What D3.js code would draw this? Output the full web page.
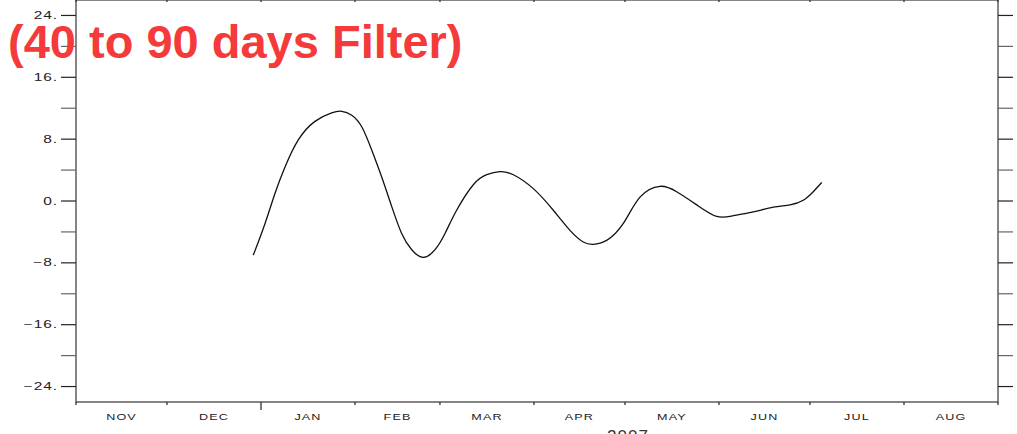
<!DOCTYPE html>
<meta charset="utf-8">
<style>
body { margin: 0; background: #fff; }
text { font-family: "Liberation Sans", Arial, sans-serif; }
.line { fill: none; stroke: #111; stroke-width: 1.3px; }
</style>
<body>
<script src="https://cdn.jsdelivr.net/npm/d3@7"></script>
<script>

// filtered series (date + hour)
var dates = ["2006-12-29T11","2007-01-02T08","2007-01-05T15","2007-01-08T22","2007-01-13T07","2007-01-18T19",
  "2007-01-24T07","2007-01-27T15","2007-01-30T22","2007-02-03T05","2007-02-06T12","2007-02-09T19",
  "2007-02-13T02","2007-02-16T09","2007-02-19T17","2007-02-23T12","2007-02-27T09",
  "2007-03-02T16","2007-03-06T12","2007-03-12T00","2007-03-16T10","2007-03-20T19","2007-03-25T05","2007-03-31T19",
  "2007-04-07T09","2007-04-12T21","2007-04-17T06","2007-04-20T13","2007-04-24T23","2007-04-30T11",
  "2007-05-05T23","2007-05-12T13","2007-05-18T01","2007-05-24T16","2007-05-31T06",
  "2007-06-05T17","2007-06-12T08","2007-06-18T22","2007-06-24T10","2007-06-28T19","2007-07-02T02","2007-07-04T21"];
var values = [-7.0,-2.9,1.0,4.4,7.9,10.3,
  11.4,11.6,11.1,9.6,6.6,3.1,
  -0.7,-4.2,-6.3,-7.3,-6.3,
  -4.2,-1.2,2.1,3.4,3.8,3.4,1.6,
  -1.2,-3.8,-5.3,-5.6,-5.1,-2.9,
  0.5,1.9,1.2,-0.5,-2.0,
  -1.9,-1.4,-0.8,-0.5,0.1,1.2,2.4];

var monthLabels = ["NOV","DEC","JAN","FEB","MAR","APR","MAY","JUN","JUL","AUG"];
var yMajor = [24,16,8,0,-8,-16,-24];
var yMinor = [20,12,4,-4,-12,-20];
var title = "(40 to 90 days Filter)";
var yearLabel = "2007";

var margin = {top: 0, left: 76, right: 19, bottom: 32},
    width = 1017 - margin.left - margin.right,
    height = 434 - margin.top - margin.bottom;

var parse = d3.utcParse("%Y-%m-%d");
var parseH = d3.utcParse("%Y-%m-%dT%H");
var data = dates.map(function(d, i) { return {date: parseH(d), v: values[i]}; });

var x = d3.scaleUtc().domain([parse("2006-11-01"), parse("2007-09-01")]).range([0, width]);
var y = d3.scaleLinear().domain([-26, 26]).range([height, 0]);

var svg = d3.select("body").append("svg")
    .attr("width", 1017)
    .attr("height", 434);

var g = svg.append("g")
    .attr("transform", "translate(" + margin.left + "," + margin.top + ")");

// frame
g.append("rect")
    .attr("width", width).attr("height", height)
    .attr("fill", "none").attr("stroke", "#444").attr("stroke-width", 1.3);

// y ticks, both sides
var yt = yMajor.map(function(v) { return {v: v, major: true}; })
  .concat(yMinor.map(function(v) { return {v: v, major: false}; }));
[[-15, 0], [width, width + 15]].forEach(function(s) {
  g.selectAll(null).data(yt).enter().append("line")
    .attr("x1", s[0]).attr("x2", s[1])
    .attr("y1", function(d) { return y(d.v); })
    .attr("y2", function(d) { return y(d.v); })
    .attr("stroke", function(d) { return d.major ? "#222" : "#666"; })
    .attr("stroke-width", 1.2);
});

// wide, squat labels like the original plotting package
g.selectAll(null).data(yMajor).enter().append("text")
    .attr("transform", function(d) { return "translate(-18," + y(d) + ") scale(1.55,1)"; })
    .attr("dy", "0.35em")
    .attr("text-anchor", "end")
    .attr("font-size", 10)
    .attr("letter-spacing", 0.6)
    .attr("fill", "#222")
    .text(function(d) { return (d < 0 ? "\u2212" + (-d) : d) + "."; });

// month boundaries on the x axis
var months = d3.utcMonth.range(parse("2006-11-01"), parse("2007-09-02"));
g.selectAll(null).data(months).enter().append("line")
    .attr("x1", function(d) { return x(d); })
    .attr("x2", function(d) { return x(d); })
    .attr("y1", height)
    .attr("y2", function(d) { return height + (d.getUTCMonth() === 0 ? 8 : 3); })
    .attr("stroke", "#333").attr("stroke-width", 1.3);
g.selectAll(null).data(months).enter().append("line")
    .attr("x1", function(d) { return x(d); })
    .attr("x2", function(d) { return x(d); })
    .attr("y1", 0).attr("y2", 2)
    .attr("stroke", "#333").attr("stroke-width", 1.3);

g.selectAll(null).data(months.slice(0, monthLabels.length)).enter().append("text")
    .attr("transform", function(d) {
      var cx = (x(d) + x(d3.utcMonth.offset(d, 1))) / 2;
      return "translate(" + cx + "," + (height + 18) + ") scale(1.4,1)";
    })
    .attr("text-anchor", "middle")
    .attr("font-size", 9)
    .attr("letter-spacing", 0.8)
    .attr("fill", "#222")
    .text(function(d, i) { return monthLabels[i]; });

g.append("text")
    .attr("x", x(parse("2007-05-02")))
    .attr("y", height + 40)
    .attr("text-anchor", "middle")
    .attr("font-size", 17)
    .attr("letter-spacing", 1)
    .attr("fill", "#333")
    .text(yearLabel);

// the curve
var line = d3.line()
    .x(function(d) { return x(d.date); })
    .y(function(d) { return y(d.v); })
    .curve(d3.curveNatural);
g.append("path").datum(data).attr("class", "line").attr("d", line);

// title
svg.append("text")
    .attr("x", 8).attr("y", 58)
    .attr("font-size", 47)
    .attr("font-weight", "bold")
    .attr("fill", "#f43a3a")
    .text(title);

</script>
</body>
